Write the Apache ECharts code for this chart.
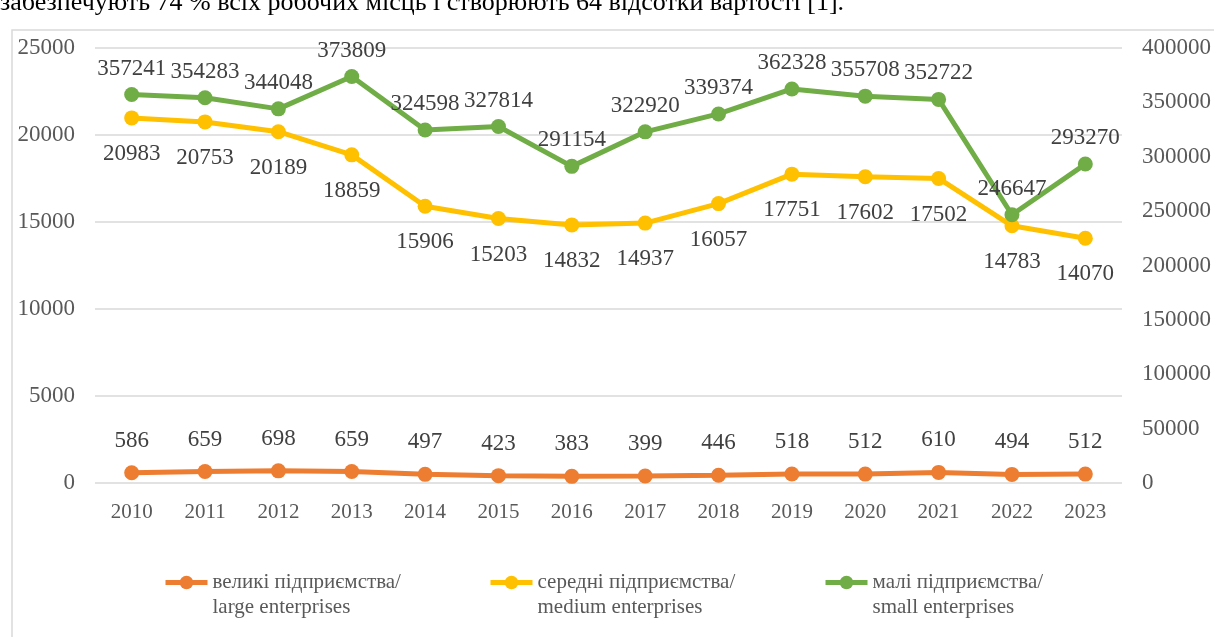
<!DOCTYPE html>
<html>
<head>
<meta charset="utf-8">
<script src="https://cdn.jsdelivr.net/npm/echarts@6/dist/echarts.min.js"></script>
<style>
  html, body { margin: 0; padding: 0; background: #fff; }
  #chart { width: 1214px; height: 637px; }
</style>
</head>
<body>
<div id="chart"></div>
<script>
// Enterprises in Ukraine by size, 2010–2023
const years = ['2010','2011','2012','2013','2014','2015','2016','2017','2018','2019','2020','2021','2022','2023'];
const largeEnterprises = [586, 659, 698, 659, 497, 423, 383, 399, 446, 518, 512, 610, 494, 512];
const mediumEnterprises = [20983, 20753, 20189, 18859, 15906, 15203, 14832, 14937, 16057, 17751, 17602, 17502, 14783, 14070];
const smallEnterprises = [357241, 354283, 344048, 373809, 324598, 327814, 291154, 322920, 339374, 362328, 355708, 352722, 246647, 293270];

const leftTicks = { min: 0, max: 25000, interval: 5000 };
const rightTicks = { min: 0, max: 400000, interval: 50000 };

const names = {
  large: 'великі підприємства/\nlarge enterprises',
  medium: 'середні підприємства/\nmedium enterprises',
  small: 'малі підприємства/\nsmall enterprises'
};

const FONT = '"Liberation Serif", "DejaVu Serif", serif';
const chart = echarts.init(document.getElementById('chart'));

function lineSeries(name, data, color, yAxisIndex, labelPos, labelDist) {
  return {
    name, type: 'line', data, yAxisIndex,
    symbol: 'circle', symbolSize: 15,
    lineStyle: { color, width: 5 },
    itemStyle: { color },
    label: {
      show: true, position: labelPos, distance: labelDist,
      color: '#404040', fontFamily: FONT, fontSize: 23
    },
    emphasis: { disabled: true },
    animation: false
  };
}

// one legend block per series; the leading blank line keeps the marker level with the first text line
function legendAt(left, name) {
  return {
    left, top: 545, padding: 0, data: [name],
    itemWidth: 42, itemHeight: 17, itemGap: 0,
    lineStyle: { width: 5 },
    formatter: n => ' \n' + n,
    textStyle: { color: '#595959', fontFamily: FONT, fontSize: 21, lineHeight: 25 },
    selectedMode: false
  };
}

chart.setOption({
  backgroundColor: '#fff',
  animation: false,
  graphic: [
    {
      type: 'rect', silent: true,
      shape: { x: 12, y: 30, width: 1400, height: 800 },
      style: { fill: 'none', stroke: '#d9d9d9', lineWidth: 1.5 }
    },
    {
      type: 'text', silent: true,
      style: {
        x: 0, y: 16, text: 'забезпечують 74 % всіх робочих місць і створюють 64 відсотки вартості [1].',
        font: '26px ' + FONT, fill: '#000', verticalAlign: 'bottom'
      }
    }
  ],
  grid: { left: 95, right: 92, top: 48, bottom: 154 },
  legend: [
    legendAt(163, names.large),
    legendAt(488, names.medium),
    legendAt(823, names.small)
  ],
  xAxis: {
    type: 'category', data: years, boundaryGap: true,
    axisLine: { show: false }, axisTick: { show: false },
    axisLabel: { color: '#595959', fontFamily: FONT, fontSize: 21, margin: 19 }
  },
  yAxis: [
    {
      type: 'value', position: 'left', ...leftTicks,
      axisLine: { show: false }, axisTick: { show: false },
      axisLabel: { color: '#595959', fontFamily: FONT, fontSize: 23, margin: 20, formatter: v => String(v) },
      splitLine: { lineStyle: { color: '#d9d9d9', width: 1.5 } }
    },
    {
      type: 'value', position: 'right', ...rightTicks,
      axisLine: { show: false }, axisTick: { show: false },
      axisLabel: { color: '#595959', fontFamily: FONT, fontSize: 23, margin: 20, align: 'left', formatter: v => String(v) },
      splitLine: { show: false }
    }
  ],
  series: [
    lineSeries(names.large, largeEnterprises, '#ED7D31', 0, 'top', 13),
    lineSeries(names.medium, mediumEnterprises, '#FFC000', 0, 'bottom', 17),
    lineSeries(names.small, smallEnterprises, '#70AD47', 1, 'top', 7)
  ]
});
</script>
</body>
</html>
